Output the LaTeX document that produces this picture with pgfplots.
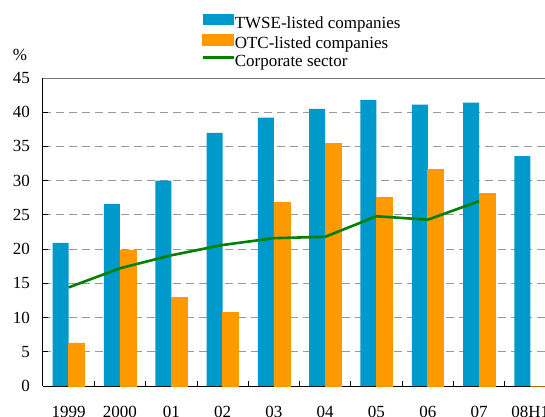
\documentclass[border=0pt]{standalone}
\usepackage{fontspec}
\setmainfont{Liberation Serif}
\usepackage{pgfplots}
\pgfplotsset{compat=1.18}
\definecolor{twse}{RGB}{0,153,204}
\definecolor{otc}{RGB}{255,153,0}
\definecolor{corp}{RGB}{0,128,0}
\begin{document}
\fontsize{17}{20}\selectfont
\begin{tikzpicture}
\begin{axis}[
  name=ax,
  scale only axis,
  width=513pt, height=308pt,
  xmin=-0.5, xmax=9.5, ymin=0, ymax=45,
  ybar=0pt, bar width=16pt,
  axis lines*=left,
  axis line style={black, line width=1pt},
  ytick={0,5,...,45},
  yticklabel={\textrm{\pgfmathprintnumber[assume math mode=true]{\tick}}},
  xtick={0,...,9},
  xticklabels={\textrm{1999},\textrm{2000},\textrm{01},\textrm{02},\textrm{03},\textrm{04},\textrm{05},\textrm{06},\textrm{07},\textrm{08H1}},
  minor xtick={0.5,1.5,...,8.5},
  major x tick style={draw=none},
  tick align=inside,
  major tick length=5pt, minor tick length=5pt,
  tick style={black, line width=0.8pt},
  ymajorgrids=true,
  major grid style={black!40, line width=0.9pt, dash pattern=on 8pt off 5pt},
  /pgf/number format/assume math mode=true,
  tick label style={font=\rmfamily\fontsize{17}{20}\selectfont},
  yticklabel style={inner sep=0pt, anchor=east, xshift=-13pt},
  xticklabel style={inner sep=0pt, anchor=north, yshift=-20pt},
  ylabel={\%},
  ylabel style={rotate=-90, at={(axis description cs:-0.045,1.075)}, anchor=center, inner sep=0pt},
  legend style={at={(axis description cs:0.308,1.208)}, anchor=north west, draw=none, fill=none, inner sep=0pt,
    row sep=2pt,
    nodes={inner xsep=0pt, inner ysep=0pt, text height=12pt, text depth=4pt},
    /tikz/every even column/.style={column sep=5pt}},
  legend cell align=left,
]
\addplot[draw=none, fill=twse,
  legend image code/.code={\fill[twse] (0pt,-1pt) rectangle (31pt,10pt);}]
  coordinates {(0,20.9) (1,26.6) (2,30.0) (3,37.0) (4,39.2) (5,40.5) (6,41.8) (7,41.1) (8,41.4) (9,33.6)};
\addlegendentry{TWSE-listed companies}
\addplot[draw=otc, line width=0.6pt, fill=otc,
  legend image code/.code={\fill[otc] (0pt,-1pt) rectangle (31pt,10pt);}]
  coordinates {(0,6.3) (1,19.9) (2,13.0) (3,10.8) (4,26.8) (5,35.4) (6,27.5) (7,31.6) (8,28.1) (9,0)};
\addlegendentry{OTC-listed companies}
\addplot[sharp plot, corp, line width=2.6pt, mark=none,
  legend image code/.code={\draw[corp, line width=2.6pt] (0pt,5pt) -- (31pt,5pt);}]
  coordinates {(0,14.4) (1,17.2) (2,19.1) (3,20.6) (4,21.6) (5,21.8) (6,24.8) (7,24.3) (8,27.0)};
\addlegendentry{Corporate sector}
\draw[black!55, line width=0.9pt] (rel axis cs:0,1) -- (rel axis cs:1,1);
\end{axis}
\pgfresetboundingbox
\path ([shift={(-43pt,-30pt)}]ax.south west) rectangle ([shift={(502pt,386pt)}]ax.south west);
\end{tikzpicture}
\end{document}
